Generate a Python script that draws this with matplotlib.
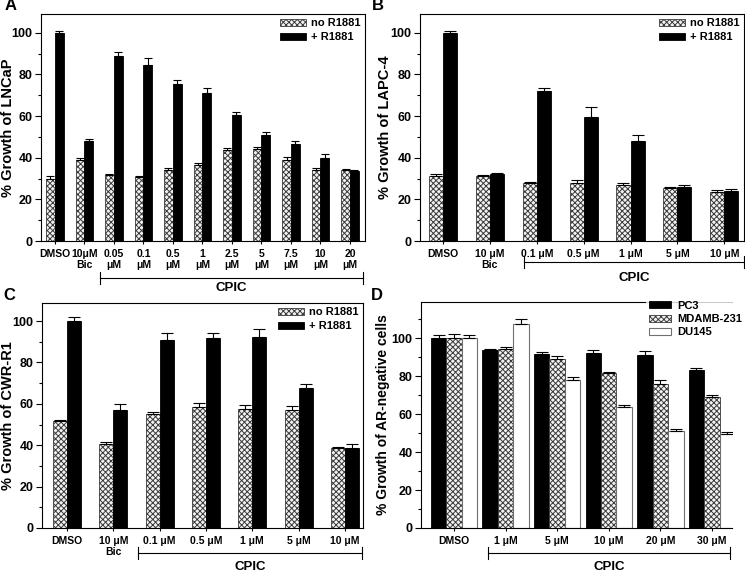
import numpy as np
import matplotlib.pyplot as plt

plt.rcParams['font.family'] = ['Liberation Sans', 'DejaVu Sans']
plt.rcParams['font.weight'] = 'bold'
plt.rcParams['hatch.linewidth'] = 0.7

mu = "\u03bc"

# Panel A - LNCaP
cats_a = ["DMSO", "10" + mu + "M\nBic", "0.05\n" + mu + "M", "0.1\n" + mu + "M",
          "0.5\n" + mu + "M", "1\n" + mu + "M", "2.5\n" + mu + "M", "5\n" + mu + "M",
          "7.5\n" + mu + "M", "10\n" + mu + "M", "20\n" + mu + "M"]
a_no = [30, 39, 31.5, 30.5, 34, 36.5, 43.5, 44, 39, 34, 34]
a_no_err = [1.2, 1.0, 0.8, 0.5, 1.0, 1.0, 1.0, 1.0, 1.2, 1.0, 0.5]
a_r = [100, 48, 89, 84.5, 75.5, 71, 60.5, 51, 46.5, 40, 33.5]
a_r_err = [1.0, 1.0, 1.7, 3.5, 1.7, 2.5, 1.5, 1.5, 1.5, 1.7, 0.8]

# Panel B - LAPC-4
cats_b = ["DMSO", "10 " + mu + "M\nBic", "0.1 " + mu + "M", "0.5 " + mu + "M",
          "1 " + mu + "M", "5 " + mu + "M", "10 " + mu + "M"]
b_no = [31, 31, 28, 28, 27, 25.5, 23.5]
b_no_err = [1.2, 0.5, 0.5, 1.2, 0.8, 0.5, 1.0]
b_r = [100, 32, 72, 59.5, 48, 26, 24]
b_r_err = [1.0, 0.8, 1.5, 5.0, 3.0, 1.0, 0.8]

# Panel C - CWR-R1
cats_c = cats_b
c_no = [51.5, 40.5, 55, 58.5, 57.5, 57, 38.5]
c_no_err = [0.8, 1.2, 0.8, 2.0, 2.0, 1.8, 0.8]
c_r = [100, 57, 91, 92, 92.5, 67.5, 38.5]
c_r_err = [2.0, 3.0, 3.0, 2.0, 3.5, 2.0, 2.0]

# Panel D - AR-negative cells
cats_d = ["DMSO", "1 " + mu + "M", "5 " + mu + "M", "10 " + mu + "M",
          "20 " + mu + "M", "30 " + mu + "M"]
d_pc3 = [100, 93.5, 91.5, 92, 91, 83]
d_pc3_err = [1.5, 1.0, 1.0, 1.5, 2.0, 1.5]
d_mda = [100, 94, 89, 81.5, 76, 69]
d_mda_err = [2.0, 1.2, 1.5, 0.8, 2.0, 0.8]
d_du = [100, 107.5, 78, 63.5, 51, 49.5]
d_du_err = [1.5, 2.5, 1.5, 1.5, 1.0, 1.0]

hatch_kw = dict(color="#f2f2f2", edgecolor="#3a3a3a", hatch="xxxxxx", linewidth=0.6)
black_kw = dict(color="black", edgecolor="black", linewidth=0.6)
white_kw = dict(color="white", edgecolor="#707070", linewidth=0.8)


def up_err(ax, x, y, err, cap):
    ax.errorbar(x, y, yerr=[np.zeros(len(err)), err], fmt="none",
                ecolor="black", elinewidth=0.8, capsize=cap, capthick=0.8)


def style_axis(ax, ylim, cats, xlim, ylabel, lab_x, yfs=10.5):
    ax.set_ylim(0, ylim)
    ax.set_xlim(*xlim)
    ax.set_yticks(np.arange(0, 101, 20))
    ax.set_yticks(np.arange(10, ylim, 20), minor=True)
    ax.tick_params(axis="y", which="major", length=4, width=0.8, labelsize=9, pad=2)
    ax.tick_params(axis="y", which="minor", length=2, width=0.8)
    ax.set_xticks(np.arange(len(cats)))
    ax.set_xticklabels(cats, fontsize=7.5)
    ax.tick_params(axis="x", length=2.5, width=0.8, pad=3)
    ax.set_ylabel(ylabel, fontsize=yfs, fontweight="bold")
    ax.yaxis.set_label_coords(lab_x, 0.5)
    for s in ax.spines.values():
        s.set_linewidth(0.8)


def bracket(ax, x0, x1, yline, ytext):
    tr = ax.get_xaxis_transform()
    ax.plot([x0, x1], [yline, yline], color="black", lw=0.8, transform=tr, clip_on=False)
    for xx in (x0, x1):
        ax.plot([xx, xx], [yline - 0.027, yline + 0.027], color="black", lw=0.8,
                transform=tr, clip_on=False)
    ax.text((x0 + x1) / 2, ytext, "CPIC", transform=tr, ha="center", va="center",
            fontsize=9.5, fontweight="bold")


def two_panel(ax, cats, no, no_err, r, r_err, w, cap):
    x = np.arange(len(cats))
    ax.bar(x - w / 2, no, w, label="no R1881", **hatch_kw)
    ax.bar(x + w / 2, r, w, label="+ R1881", **black_kw)
    up_err(ax, x - w / 2, no, no_err, cap)
    up_err(ax, x + w / 2, r, r_err, cap)
    ax.legend(loc="upper right", frameon=False, fontsize=8, handlelength=2.3,
              handleheight=0.6, handletextpad=0.5, labelspacing=0.35,
              borderaxespad=0.2, borderpad=0.2)


fig = plt.figure(figsize=(7.45, 5.72), dpi=100)

# A
axA = fig.add_axes([41 / 745, 1 - 241 / 572, 324 / 745, 227 / 572])
two_panel(axA, cats_a, a_no, a_no_err, a_r, a_r_err, 0.3, 3)
style_axis(axA, 109, cats_a, (-0.47, 10.51), "% Growth of LNCaP", -0.08)
bracket(axA, 1.53, 10.44, -0.163, -0.207)

# B
axB = fig.add_axes([420 / 745, 1 - 241 / 572, 324 / 745, 227 / 572])
two_panel(axB, cats_b, b_no, b_no_err, b_r, b_r_err, 0.3, 4.5)
style_axis(axB, 109, cats_b, (-0.49, 6.42), "% Growth of LAPC-4", -0.086)
bracket(axB, 1.72, 6.42, -0.0925, -0.163)

# C
axC = fig.add_axes([42 / 745, 1 - 528 / 572, 321 / 745, 225 / 572])
two_panel(axC, cats_c, c_no, c_no_err, c_r, c_r_err, 0.3, 4.5)
style_axis(axC, 108.7, cats_c, (-0.54, 6.39), "% Growth of CWR-R1", -0.084)
bracket(axC, 1.53, 6.37, -0.111, -0.173)

# D
axD = fig.add_axes([421 / 745, 1 - 528 / 572, 311 / 745, 226 / 572])
xd = np.arange(len(cats_d))
wd = 0.3
axD.bar(xd - wd, d_pc3, wd, label="PC3", **black_kw)
axD.bar(xd, d_mda, wd, label="MDAMB-231", **hatch_kw)
axD.bar(xd + wd, d_du, wd, label="DU145", **white_kw)
up_err(axD, xd - wd, d_pc3, d_pc3_err, 4)
up_err(axD, xd, d_mda, d_mda_err, 4)
up_err(axD, xd + wd, d_du, d_du_err, 4)
style_axis(axD, 119, cats_d, (-0.64, 5.39), "% Growth of AR-negative cells", -0.1, yfs=10)
axD.spines["right"].set_visible(False)
axD.tick_params(axis="y", which="both", right=False)
leg = axD.legend(loc="upper right", bbox_to_anchor=(1.042, 1.02), frameon=True,
                 fontsize=8, handlelength=2.0, handleheight=0.6, handletextpad=0.5,
                 labelspacing=0.3, borderaxespad=0, borderpad=0.3, fancybox=False)
leg.get_frame().set_facecolor("white")
leg.get_frame().set_edgecolor("none")
bracket(axD, 0.66, 5.36, -0.111, -0.173)

# panel letters
fig.text(5 / 745, 1 - 6 / 572, "A", fontsize=12, fontweight="bold", ha="left", va="center")
fig.text(372 / 745, 1 - 6 / 572, "B", fontsize=12, fontweight="bold", ha="left", va="center")
fig.text(3 / 745, 1 - 296 / 572, "C", fontsize=12, fontweight="bold", ha="left", va="center")
fig.text(371 / 745, 1 - 296 / 572, "D", fontsize=12, fontweight="bold", ha="left", va="center")

fig.savefig("out.png", dpi=100)
